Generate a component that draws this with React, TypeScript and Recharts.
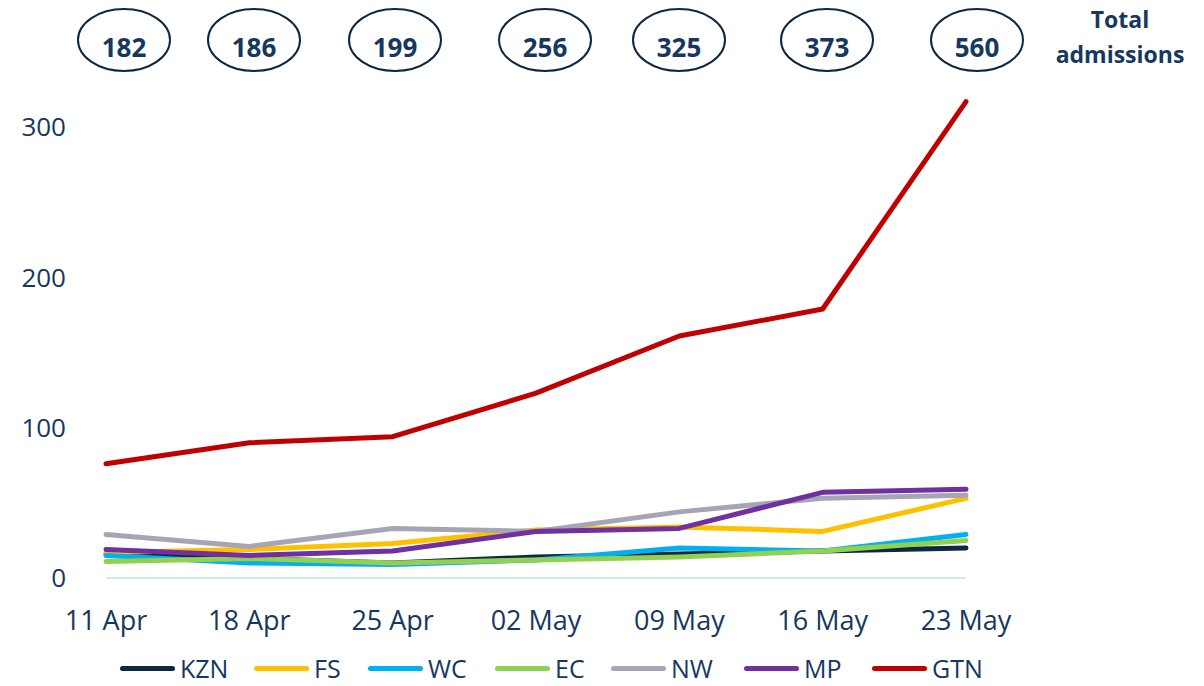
import React from 'react';
import { LineChart, Line, XAxis, YAxis, Legend } from 'recharts';

const weeks = ['11 Apr', '18 Apr', '25 Apr', '02 May', '09 May', '16 May', '23 May'];
const totals = [182, 186, 199, 256, 325, 373, 560];
const yTicks = [0, 100, 200, 300];

const kzn = [16, 13, 10, 14, 16, 18, 20];
const fs = [17, 19, 23, 32, 34, 31, 53];
const wc = [15, 10, 9, 12, 20, 18, 29];
const ec = [11, 13, 10, 12, 14, 18, 25];
const nw = [29, 21, 33, 31, 44, 53, 55];
const mp = [19, 15, 18, 31, 33, 57, 59];
const gtn = [76, 90, 94, 123, 161, 179, 317];

const series = [
  { key: 'KZN', values: kzn, color: '#0E2841' },
  { key: 'FS', values: fs, color: '#FFC000' },
  { key: 'WC', values: wc, color: '#00B0F0' },
  { key: 'EC', values: ec, color: '#92D050' },
  { key: 'NW', values: nw, color: '#A5A5B5' },
  { key: 'MP', values: mp, color: '#7030A0' },
  { key: 'GTN', values: gtn, color: '#C00000' },
];

const data = weeks.map((w, i) => {
  const row: Record<string, string | number> = { week: w };
  series.forEach((s) => { row[s.key] = s.values[i]; });
  return row;
});

// ellipse centres for the totals row and legend item starts
const ellipseX = [124, 254, 395, 545, 679, 827, 977];
const legendX = [120, 254, 368, 495, 611, 744, 872];

const TEXT = '#17375E';
const FONT = '"Open Sans", sans-serif';

const LegendContent = () => (
  <div style={{ position: 'relative', height: 36, fontFamily: FONT, fontSize: 25, color: TEXT }}>
    {series.map((s, i) => (
      <div key={s.key} style={{ position: 'absolute', left: legendX[i], top: 0, height: 36, display: 'flex', alignItems: 'center', whiteSpace: 'nowrap' }}>
        <span style={{ display: 'inline-block', width: 55, height: 5, borderRadius: 3, background: s.color, marginRight: 5 }} />
        <span>{s.key}</span>
      </div>
    ))}
  </div>
);

export default function App() {
  return (
    <div style={{ position: 'absolute', left: 0, top: 0, width: 1204, height: 686, background: '#fff', fontFamily: FONT }}>
      <LineChart width={1204} height={686} data={data} margin={{ top: 52, right: 238, bottom: 0, left: 26 }}>
        <XAxis
          dataKey="week"
          height={72}
          axisLine={{ stroke: '#CFE6F7', strokeWidth: 2 }}
          tickLine={false}
          tickSize={0}
          tickMargin={33}
          tick={{ fill: TEXT, fontSize: 27, fontFamily: FONT }}
        />
        <YAxis
          domain={[0, 350]}
          ticks={yTicks}
          width={80}
          axisLine={false}
          tickLine={false}
          tickSize={0}
          tickMargin={40}
          tick={{ fill: TEXT, fontSize: 26, fontFamily: FONT }}
        />
        <Legend verticalAlign="bottom" content={<LegendContent />} wrapperStyle={{ left: 0, width: 1204 }} />
        {series.map((s) => (
          <Line
            key={s.key}
            dataKey={s.key}
            stroke={s.color}
            strokeWidth={5}
            strokeLinecap="round"
            strokeLinejoin="round"
            dot={false}
            activeDot={false}
            isAnimationActive={false}
          />
        ))}
      </LineChart>
      <svg width={1204} height={90} style={{ position: 'absolute', left: 0, top: 0 }}>
        {totals.map((t, i) => (
          <g key={t}>
            <ellipse cx={ellipseX[i]} cy={40} rx={46} ry={31} fill="none" stroke="#0E2841" strokeWidth={2} />
            <text x={ellipseX[i]} y={57} textAnchor="middle" fontSize={26} fontWeight={700} fill={TEXT} fontFamily={FONT}>{t}</text>
          </g>
        ))}
        <text x={1120} y={28} textAnchor="middle" fontSize={23} fontWeight={700} fill={TEXT} fontFamily={FONT}>Total</text>
        <text x={1120} y={63} textAnchor="middle" fontSize={23} fontWeight={700} fill={TEXT} fontFamily={FONT}>admissions</text>
      </svg>
    </div>
  );
}
